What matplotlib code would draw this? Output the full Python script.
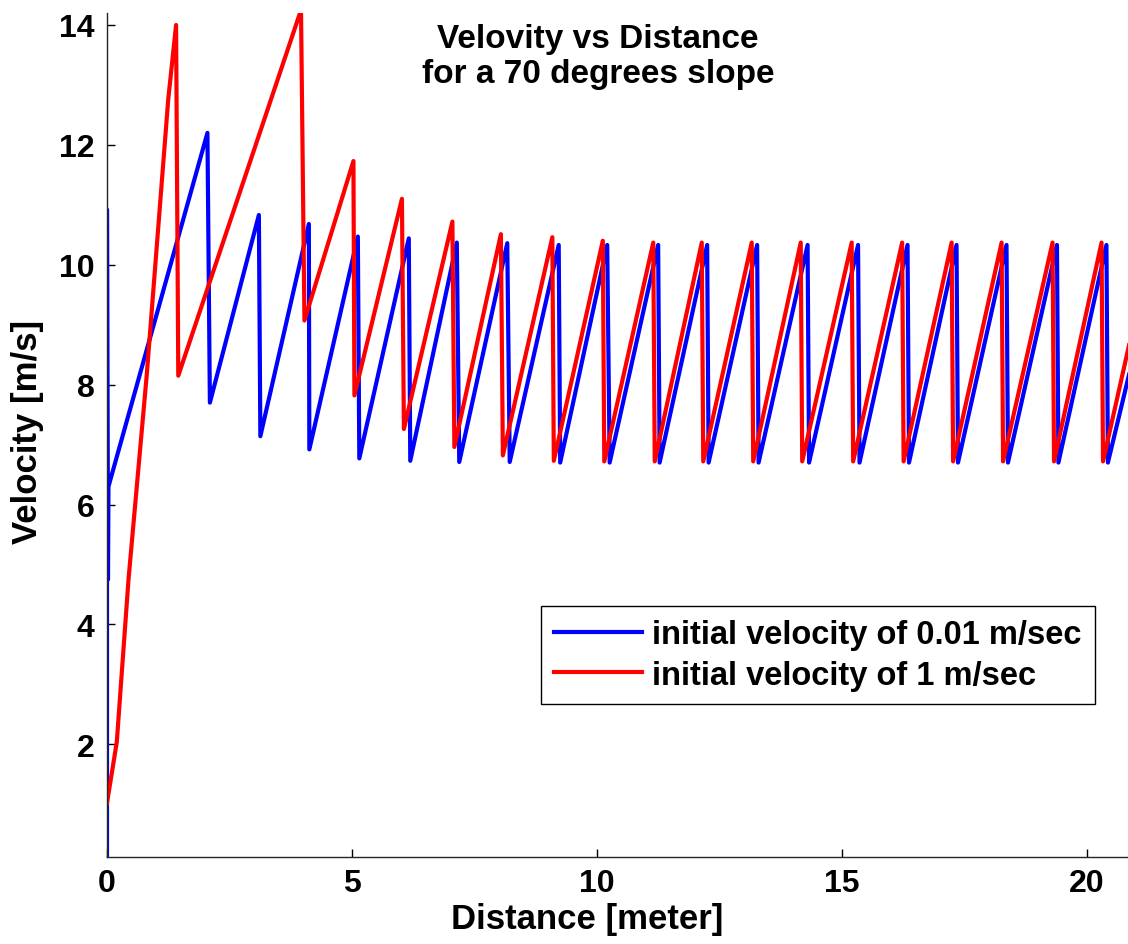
import matplotlib
matplotlib.use("Agg")
import matplotlib.pyplot as plt

plt.rcParams['font.family'] = ['Liberation Sans', 'DejaVu Sans']
plt.rcParams['font.weight'] = 'bold'

# velocity curves (peaks / troughs of the sawtooth)
blue_x = [0.0, 0.0, 0.02, 0.03, 2.05, 2.10, 3.10, 3.13, 4.12, 4.13, 5.12, 5.15,
          6.16, 6.19, 7.14, 7.19, 8.17, 8.22, 9.22, 9.25, 10.21, 10.26,
          11.25, 11.28, 12.25, 12.28, 13.27, 13.30, 14.30, 14.33, 15.33, 15.36,
          16.34, 16.37, 17.34, 17.37, 18.36, 18.39, 19.39, 19.42, 20.40, 20.43, 20.90]
blue_y = [0.01, 10.92, 4.75, 6.30, 12.20, 7.70, 10.83, 7.14, 10.68, 6.92, 10.47, 6.77,
          10.44, 6.73, 10.37, 6.71, 10.36, 6.71, 10.33, 6.70, 10.33, 6.70,
          10.33, 6.70, 10.33, 6.70, 10.33, 6.70, 10.33, 6.70, 10.33, 6.70,
          10.33, 6.70, 10.33, 6.70, 10.33, 6.70, 10.33, 6.70, 10.33, 6.70, 8.30]

red_x = [0.0, 0.20, 0.44, 0.81, 1.25, 1.41, 1.455, 3.96, 4.03, 5.03, 5.05,
         6.02, 6.06, 7.05, 7.09, 8.04, 8.08, 9.09, 9.12, 10.12, 10.15,
         11.15, 11.18, 12.14, 12.17, 13.16, 13.19, 14.16, 14.19, 15.20, 15.23,
         16.23, 16.26, 17.24, 17.27, 18.26, 18.29, 19.30, 19.33, 20.30, 20.33, 20.90]
red_y = [1.02, 2.04, 4.76, 8.15, 12.76, 14.00, 8.15, 14.25, 9.07, 11.73, 7.82,
         11.10, 7.26, 10.72, 6.96, 10.51, 6.82, 10.46, 6.73, 10.40, 6.72,
         10.37, 6.72, 10.37, 6.72, 10.37, 6.72, 10.37, 6.72, 10.37, 6.72,
         10.37, 6.72, 10.37, 6.72, 10.37, 6.72, 10.37, 6.72, 10.37, 6.72, 8.80]

labels = ['initial velocity of 0.01 m/sec', 'initial velocity of 1 m/sec']
title_lines = ['Velovity vs Distance', 'for a 70 degrees slope']
x_ticks = [0, 5, 10, 15, 20]
y_ticks = [2, 4, 6, 8, 10, 12, 14]

W, H = 1128, 945
fig = plt.figure(figsize=(W / 100, H / 100), dpi=100)
ax = fig.add_axes([107 / W, 1 - 858 / H, 1 - 107 / W, (858 - 14) / H])

ax.plot(blue_x, blue_y, color='#0000ff', lw=3.0, label=labels[0])
ax.plot(red_x, red_y, color='#ff0000', lw=3.0, label=labels[1])

ax.set_xlim(0, 20.84)
ax.set_ylim(0.12, 14.2)
ax.set_xticks(x_ticks)
ax.set_yticks(y_ticks)
ax.tick_params(direction='in', length=6, width=1, labelsize=23, pad=9)
ax.tick_params(axis='x', pad=8)
for lab in ax.get_xticklabels() + ax.get_yticklabels():
    lab.set_fontweight('bold')
ax.spines['top'].set_visible(False)
ax.spines['right'].set_visible(False)
for s in ('left', 'bottom'):
    ax.spines[s].set_linewidth(1.0)
    ax.spines[s].set_color('#262626')

ax.set_xlabel('Distance [meter]', fontsize=25, fontweight='bold', va='center')
ax.set_ylabel('Velocity [m/s]', fontsize=25, fontweight='bold', va='center')
ax.xaxis.set_label_coords((587 - 107) / 1021, (858 - 920) / 844)
ax.yaxis.set_label_coords((28 - 107) / 1021, (858 - 432) / 844)

fig.text(598 / W, 1 - 48 / H, title_lines[0], ha='center', va='baseline',
         fontsize=24, fontweight='bold')
fig.text(598 / W, 1 - 83 / H, title_lines[1], ha='center', va='baseline',
         fontsize=24, fontweight='bold')

leg = ax.legend(loc='upper left', bbox_to_anchor=(541 / W, 1 - 607 / H),
                bbox_transform=fig.transFigure, borderaxespad=0, fancybox=False,
                framealpha=1, edgecolor='black', fontsize=23.5, handlelength=2.7,
                handletextpad=0.3, labelspacing=0.3, borderpad=0.4)
leg.get_frame().set_linewidth(1.0)
for t in leg.get_texts():
    t.set_fontweight('bold')
for ln in leg.get_lines():
    ln.set_linewidth(3.0)

fig.savefig('out.png', dpi=100)
